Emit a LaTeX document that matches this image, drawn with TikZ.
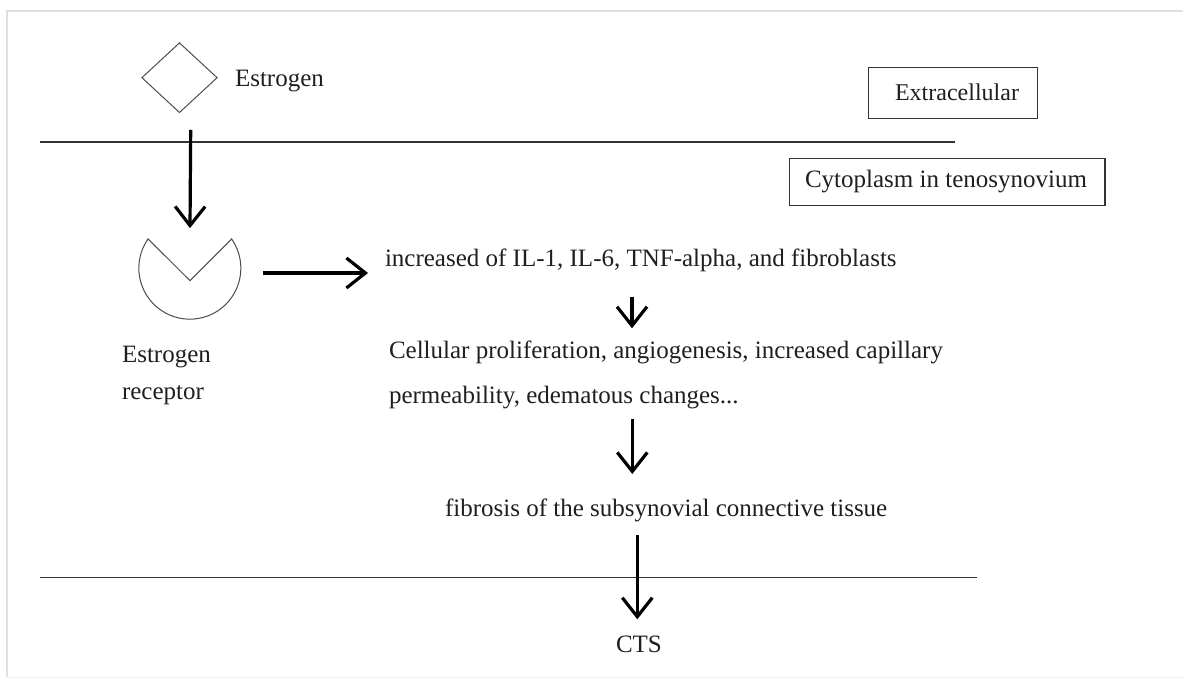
\documentclass[tikz,border=0pt]{standalone}
\usepackage{fontspec}
\setmainfont{Liberation Serif}
\usetikzlibrary{arrows.meta,shapes.geometric}
\tikzset{
txt/.style = {inner sep=0pt, outer sep=0pt, text=black!88,
              font=\fontsize{25}{30}\selectfont},
flow/.style = {draw=black, line width=3.2pt,
               -{Straight Barb[length=19pt, width=30pt]}},
membrane/.style = {draw=black!80, line width=1.3pt},
outline/.style = {draw=black!70, line width=1pt},
tag/.style = {rectangle, draw=black!80, line width=1.2pt, inner sep=0pt}
}

\begin{document}
\begin{tikzpicture}[x=1pt, y=1pt]
\useasboundingbox (0,0) rectangle (1183,679);

% page shadow
\draw[black!12, line width=2pt] (7,2) -- (7,668) -- (1183,668);
\draw[black!6, line width=1.5pt] (7,1.5) -- (1183,1.5);

\node[diamond, outline, minimum width=75.6pt, minimum height=70pt, inner sep=0pt] (estro) at (179.5,601.3) {};
\node[txt, anchor=base west] (estrolab) at (235,592.3) {Estrogen};

\node[tag, minimum width=169.4pt, minimum height=51pt] (extra) at (953,586.2) {};
\node[txt, font=\fontsize{24}{28}\selectfont] (extralab) at (957,586.2) {Extracellular};
\node[tag, minimum width=315.7pt, minimum height=47.4pt] (cyto) at (947.2,497) {};
\node[txt] (cytolab) at (946,497) {Cytoplasm in tenosynovium};

\coordinate (memTL) at (40,537);
\coordinate (memTR) at (955,537);
\coordinate (memBL) at (40,101.3);
\coordinate (memBR) at (977,101.3);

\node[circle, minimum size=102pt, inner sep=0pt] (recep) at (190,410.7) {};
\draw[outline] ([yshift=-12.4pt]recep.center) -- (recep.145)
  arc[start angle=145, end angle=395, radius=51pt] -- cycle;
\node[txt, anchor=base west] (receplab1) at (122,316.3) {Estrogen};
\node[txt, anchor=base west] (receplab2) at (122,279) {receptor};

\node[txt, anchor=base west] (incr) at (385,412.3) {increased of IL-1, IL-6, TNF-alpha, and fibroblasts};
\node[txt, anchor=base west] (cell1) at (389,320.7) {Cellular proliferation, angiogenesis, increased capillary};
\node[txt, anchor=base west] (cell2) at (389,275.7) {permeability, edematous changes...};
\node[txt, anchor=base west] (fibro) at (445,162.3) {fibrosis of the subsynovial connective tissue};
\node[txt, anchor=base west] (cts) at (616,26.7) {CTS};

\coordinate (a1) at (190.7,549);
\coordinate (a2s) at (263,406);
\coordinate (a2e) at (368,406);
\coordinate (a3s) at (632,382.3);
\coordinate (a3e) at (632,350.7);
\coordinate (a4s) at (632.3,259.7);
\coordinate (a4e) at (632.3,205);
\coordinate (a5s) at (637.3,144);
\coordinate (a5e) at (637.3,59.7);

\draw[membrane] (memTL) -- (memTR);
\draw[membrane] (memBL) -- (memBR);

\draw[flow] (a1) -- ([yshift=-11pt]recep.north);
\draw[flow] (a2s) -- (a2e);
\draw[flow] (a3s) -- (a3e);
\draw[flow] (a4s) -- (a4e);
\draw[flow] (a5s) -- (a5e);
\end{tikzpicture}
\end{document}
